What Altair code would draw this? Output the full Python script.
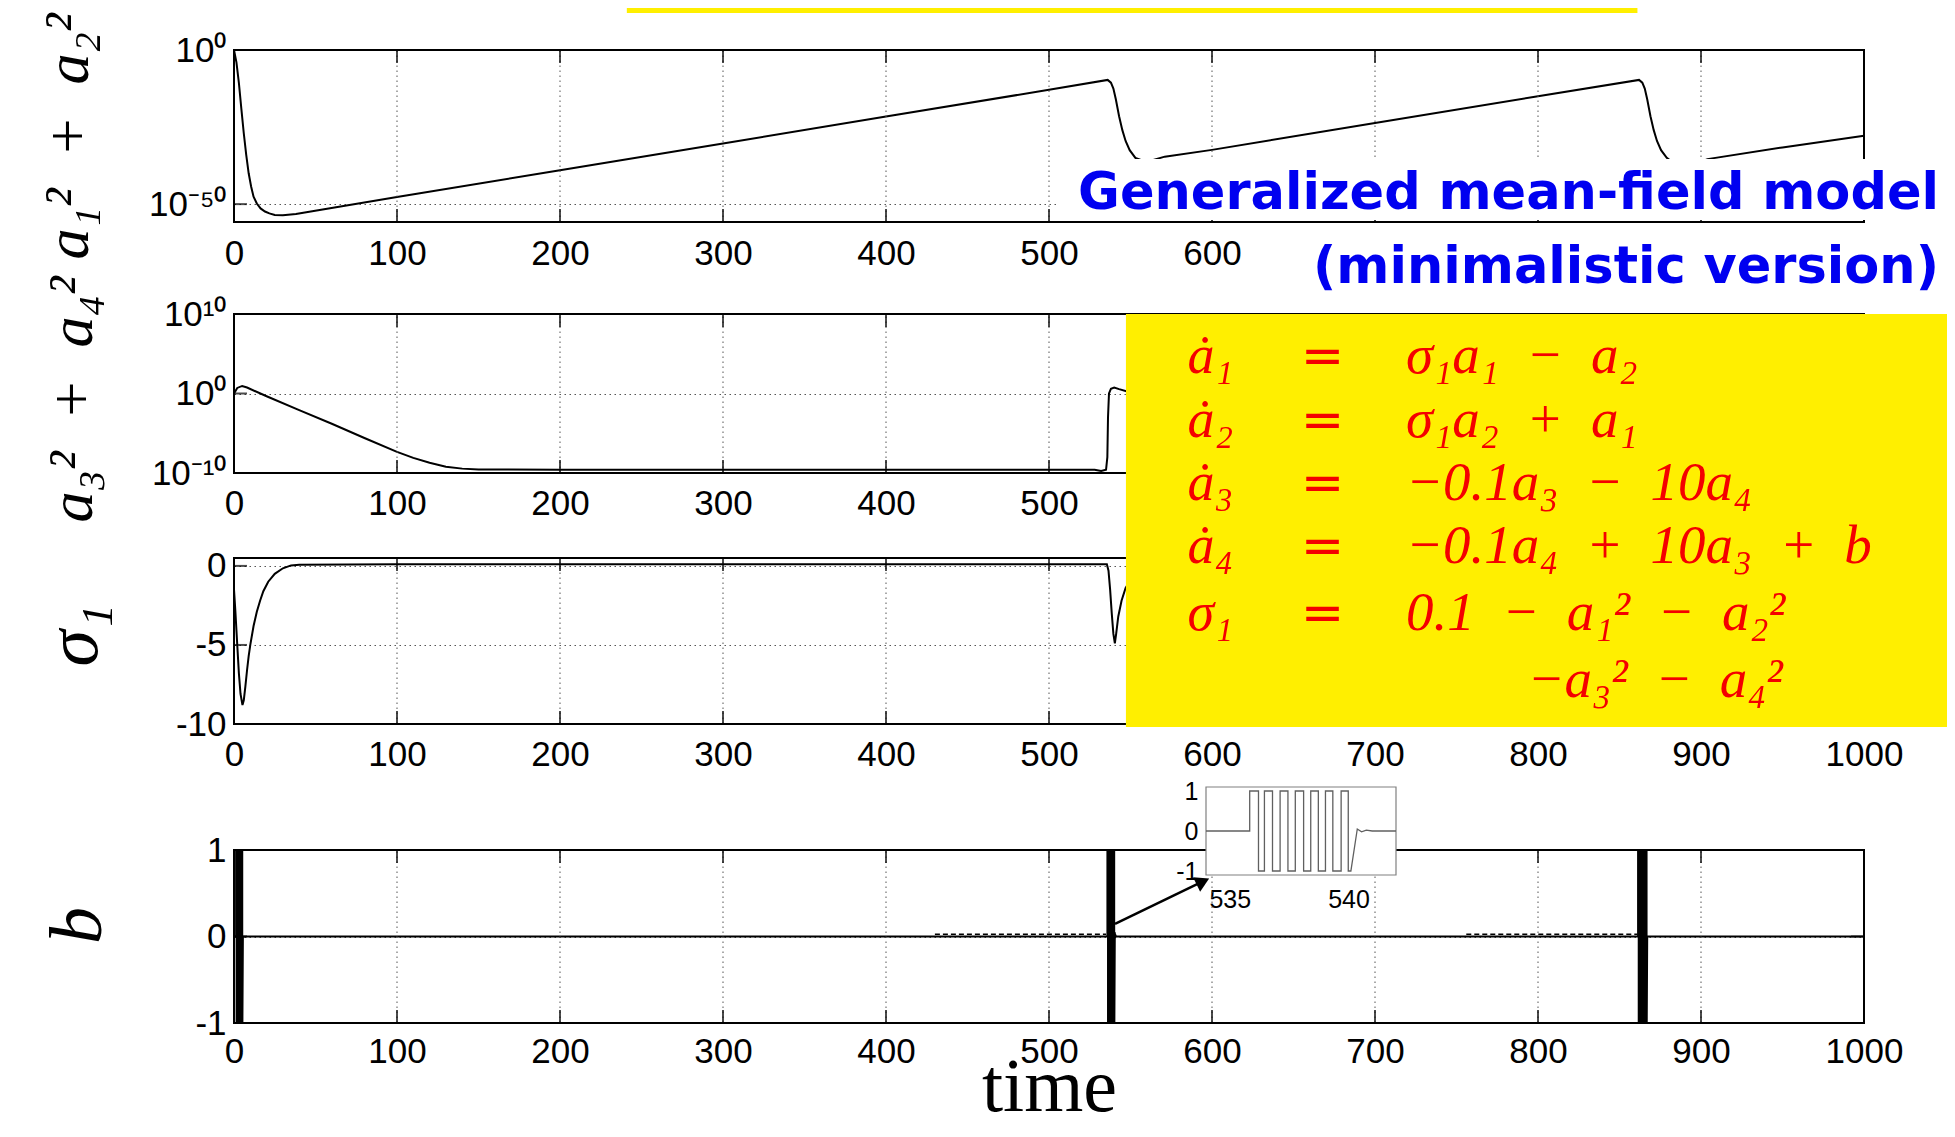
import altair as alt
import pandas as pd

# ---------------- values ----------------
T_TICKS = [0, 100, 200, 300, 400, 500, 600, 700, 800, 900, 1000]

# panel 1 : log10(a1^2 + a2^2)
P1_T = [0, 1.5, 3, 4.5, 6, 7.5, 9, 10.5, 12, 14, 16.3, 19, 21.7, 25, 30, 38, 48, 100, 200, 300,
        400, 500, 536, 538, 539.5, 541, 543, 545, 547, 549.5, 553, 558, 564, 571, 600, 700, 800,
        862, 864, 865.5, 867, 869, 871, 873, 875.5, 879, 884, 890, 897, 904, 950, 1000]
P1_V = [0, -4, -10.7, -19, -27, -34, -40, -44.3, -47.6, -49.8, -51.4, -52.4, -53, -53.5, -53.6,
        -53.2, -52.3, -47.7, -39.0, -30.3, -21.6, -12.9, -9.7, -10.6, -12.5, -16, -21.5, -26,
        -29.5, -32.5, -35, -36.0, -35.7, -34.6, -32.4, -23.7, -15.0, -9.7, -10.6, -12.5, -16,
        -21.5, -26, -29.5, -32.5, -35, -37, -37.6, -36.8, -35.4, -31.6, -27.8]

# panel 2 : log10(a3^2 + a4^2)
P2_T = [0, 2, 5, 8, 20, 40, 60, 80, 100, 110, 120, 130, 140, 150, 200, 300, 400, 500, 528, 532,
        535, 535.8, 536.2, 536.8, 538, 540, 543, 548, 552]
P2_V = [0.0, 0.7, 0.95, 0.75, -0.35, -2.1, -3.8, -5.6, -7.35, -8.1, -8.7, -9.2, -9.45, -9.55,
        -9.6, -9.6, -9.6, -9.6, -9.6, -9.75, -9.6, -8.0, -3.0, 0.0, 0.6, 0.75, 0.55, 0.25, 0.1]

# panel 3 : sigma_1
P3_T = [0, 0.8, 2, 3, 4, 5.2, 6, 7, 8, 9, 10, 12, 14, 16, 18, 21, 25, 30, 35, 40, 100, 300,
        535.5, 536.5, 537.5, 538.5, 539.5, 540.4, 541.2, 542.5, 544.5, 547, 550]
P3_V = [-1.5, -2.8, -5.0, -6.8, -8.1, -8.8, -8.5, -7.6, -6.6, -5.7, -5.0, -3.8, -2.9, -2.2, -1.6,
        -1.0, -0.5, -0.15, 0.03, 0.08, 0.1, 0.1, 0.1, -0.3, -1.5, -3.0, -4.3, -4.9, -4.3, -3.2,
        -2.2, -1.4, -0.9]

# panel 4 : forcing b (switch times and level after each switch)
B1_SW_T = [1.3, 1.6, 1.9, 2.25, 2.6, 2.95, 3.3, 3.65, 4.0, 4.35, 4.7, 5.05]
B1_SW_V = [1, -1, 1, -1, 1, -1, 1, -1, 1, -1, 1, -1]
B1_TAIL_T = [5.15, 5.45]
B1_TAIL_V = [-1, 0]
B2_SW_T = [535.84, 536.21, 536.46, 536.80, 537.12, 537.45, 537.76, 538.11, 538.41, 538.73,
           539.03, 539.34, 539.69, 539.99]
B2_SW_V = [1, -1, 1, -1, 1, -1, 1, -1, 1, -1, 1, -1, 1, -1]
B2_TAIL_T = [540.10, 540.37, 540.55, 540.75, 541.0]
B2_TAIL_V = [-1, 0.05, -0.02, 0.02, 0.0]
B3_SW_T = [861.4, 861.8, 862.2, 862.6, 863.0, 863.4, 863.8, 864.2, 864.6, 865.0, 865.4, 865.8,
           866.2, 866.6]
B3_SW_V = [1, -1, 1, -1, 1, -1, 1, -1, 1, -1, 1, -1, 1, -1]
B3_TAIL_T = [866.7, 867.0]
B3_TAIL_V = [-1, 0]
NOISE_T0 = [430, 756]
NOISE_T1 = [535, 861]
NOISE_V = [0.025, 0.025]

# tick labels that are visible in each panel (the others are hidden by the overlays)
P1_XTICKS = [0, 100, 200, 300, 400, 500, 600]
P2_XTICKS = [0, 100, 200, 300, 400, 500]
P1_YTICKS = [0, -50]
P2_YTICKS = [10, 0, -10]
P3_YTICKS = [0, -5, -10]
P4_YTICKS = [1, 0, -1]
INSET_XTICKS = [535, 540]
INSET_YTICKS = [1, 0, -1]

E = "\u2002"
EQ_LHS = ["ȧ₁", "ȧ₂", "ȧ₃", "ȧ₄", "σ₁"]
EQ_RHS = [f"σ₁a₁{E}−{E}a₂", f"σ₁a₂{E}+{E}a₁", f"−0.1a₃{E}−{E}10a₄",
          f"−0.1a₄{E}+{E}10a₃{E}+{E}b", f"0.1{E}−{E}a₁²{E}−{E}a₂²"]
EQ_CONT = f"−a₃²{E}−{E}a₄²"
BLUE_LINES = ["Generalized mean-field model", "(minimalistic version)"]

# ---------------- layout / style ----------------
W, H = 1630, 973
GRID_C = "#555555"
YELLOW = "#FFEF00"
RED = "#F40000"
BLUE = "#0000F0"

SUP = str.maketrans("-0123456789", "⁻⁰¹²³⁴⁵⁶⁷⁸⁹")


def pow_expr(vals):
    parts = [f"datum.value == {v} ? '10{str(v).translate(SUP)}'" for v in vals]
    return " : ".join(parts) + " : ''"


PLAIN_EXPR = "datum.value + ''"


def sc_x():
    return alt.Scale(domain=[0, 1000], range=[0, W], nice=False, zero=False)


def sc_y(dom, rng):
    return alt.Scale(domain=dom, range=rng, nice=False, zero=False)


def line_df(ts, vs):
    return pd.DataFrame({"t": ts, "v": vs, "i": list(range(len(ts)))})


def steps(t0, v0, sw_t, sw_v, tail_t, tail_v):
    ts, vs, prev = [t0], [v0], v0
    for a, b in zip(sw_t, sw_v):
        ts += [a, a]
        vs += [prev, b]
        prev = b
    return ts + list(tail_t), vs + list(tail_v)


X_AXIS = dict(orient="bottom", grid=False, domain=False, ticks=False, tickSize=0,
              labelFont="Liberation Sans", labelFontSize=35, labelColor="black",
              labelFlush=False, labelOverlap=False, labelExpr=PLAIN_EXPR, zindex=0)
Y_AXIS = dict(orient="left", grid=True, gridDash=[1.5, 3.5], gridColor=GRID_C, gridWidth=1,
              gridOpacity=1, domain=False, ticks=False, tickSize=0, labelPadding=8,
              labelFont="Liberation Sans", labelFontSize=35, labelColor="black", labelFlush=False,
              labelOverlap=False, zindex=0, titleAngle=270, titleAlign="center",
              titleBaseline="middle", titleFont="Liberation Serif", titleFontStyle="italic",
              titleFontWeight="normal", titleColor="black")


def panel(curve_df, dom, rng, xticks, yticks, ylab, ytitle, tsize, tx, ty, xoff, lpad, xtitle, extra):
    xsc, ysc = sc_x(), sc_y(dom, rng)
    if xtitle:
        xaxis = alt.Axis(values=xticks, offset=xoff, labelPadding=lpad, title=xtitle,
                         titleFont="Liberation Serif", titleFontSize=76, titleFontWeight="normal",
                         titleColor="black", titleY=87, titleBaseline="alphabetic", **X_AXIS)
    else:
        xaxis = alt.Axis(values=xticks, offset=xoff, labelPadding=lpad, title=None, **X_AXIS)
    yaxis = alt.Axis(values=yticks, labelExpr=ylab, title=ytitle, titleFontSize=tsize,
                     titleX=tx, titleY=ty, **Y_AXIS)

    # every layer of a panel carries the same axis definition, so that they merge cleanly
    def X(f):
        return alt.X(f, type="quantitative", scale=xsc, axis=xaxis)

    def Y(f):
        return alt.Y(f, type="quantitative", scale=ysc, axis=yaxis)

    inner_x = T_TICKS[1:-1]
    grid = alt.Chart(pd.DataFrame({"t": inner_x, "y0": dom[0], "y1": dom[1]})).mark_rule(
        color=GRID_C, strokeDash=[1.5, 3.5], strokeWidth=1).encode(x=X("t"), y=Y("y0"), y2="y1:Q")
    curve = alt.Chart(curve_df).mark_line(color="black", strokeWidth=2).encode(
        x=X("t"), y=Y("v"), order="i:Q")
    border = alt.Chart(pd.DataFrame({"x0": [0], "x1": [1000], "y0": [dom[0]], "y1": [dom[1]]})).mark_rect(
        fillOpacity=0, stroke="black", strokeWidth=2).encode(x=X("x0"), x2="x1:Q", y=Y("y0"), y2="y1:Q")
    t_top = alt.Chart(pd.DataFrame({"t": inner_x, "y": dom[1]})).mark_tick(
        orient="vertical", size=13, thickness=2, color="black", yOffset=6.5).encode(x=X("t"), y=Y("y"))
    t_bot = alt.Chart(pd.DataFrame({"t": inner_x, "y": dom[0]})).mark_tick(
        orient="vertical", size=13, thickness=2, color="black", yOffset=-6.5).encode(x=X("t"), y=Y("y"))
    inner_y = [v for v in yticks if dom[0] < v < dom[1]]
    t_left = alt.Chart(pd.DataFrame({"x": 0, "v": inner_y})).mark_tick(
        orient="horizontal", size=13, thickness=2, color="black", xOffset=6.5).encode(x=X("x"), y=Y("v"))
    t_right = alt.Chart(pd.DataFrame({"x": 1000, "v": inner_y})).mark_tick(
        orient="horizontal", size=13, thickness=2, color="black", xOffset=-6.5).encode(x=X("x"), y=Y("v"))
    layers = [curve, grid, border, t_top, t_bot, t_left, t_right]
    layers += [f(X, Y) for f in extra]
    return alt.layer(*layers)


# ---------------- annotations ----------------
def p1_extra_strip(X, Y):
    df = pd.DataFrame({"x0": [241], "x1": [861], "y0": [12.0], "y1": [13.6]})
    return alt.Chart(df).mark_rect(color=YELLOW).encode(x=X("x0"), x2="x1:Q", y=Y("y0"), y2="y1:Q")


def p1_extra_boxes(X, Y):
    df = pd.DataFrame({"x0": [505.5, 654], "x1": [1051, 1051], "y0": [-55.16, -81.76], "y1": [-35.37, -59.05]})
    return alt.Chart(df).mark_rect(color="white").encode(x=X("x0"), x2="x1:Q", y=Y("y0"), y2="y1:Q")


def p1_extra_text(X, Y):
    df = pd.DataFrame({"t": [1046, 1046], "v": [-51.58, -75.59], "txt": BLUE_LINES})
    return alt.Chart(df).mark_text(align="right", baseline="alphabetic", font="DejaVu Sans",
                                   fontWeight="bold", fontSize=51, color=BLUE).encode(
        x=X("t"), y=Y("v"), text="txt:N")


ROW_S = [12.2, 8.15, 4.17, 0.18, -4.05]


def p3_extra_box(X, Y):
    df = pd.DataFrame({"x0": [547.2], "x1": [1051], "y0": [-10.19], "y1": [15.93]})
    return alt.Chart(df).mark_rect(color=YELLOW).encode(x=X("x0"), x2="x1:Q", y=Y("y0"), y2="y1:Q")


def p3_extra_lhs(X, Y):
    df = pd.DataFrame({"t": [585.0] * 5, "v": ROW_S, "txt": EQ_LHS})
    return alt.Chart(df).mark_text(align="left", baseline="alphabetic", font="Liberation Serif",
                                   fontStyle="italic", fontSize=54, color=RED).encode(
        x=X("t"), y=Y("v"), text="txt:N")


def p3_extra_eq(X, Y):
    df = pd.DataFrame({"t": [654.5] * 5, "v": ROW_S, "txt": ["="] * 5})
    return alt.Chart(df).mark_text(align="left", baseline="alphabetic", font="DejaVu Sans",
                                   fontSize=52, color=RED).encode(
        x=X("t"), y=Y("v"), text="txt:N")


def p3_extra_rhs(X, Y):
    df = pd.DataFrame({"t": [719.0] * 5 + [793.5], "v": ROW_S + [-8.29], "txt": EQ_RHS + [EQ_CONT]})
    return alt.Chart(df).mark_text(align="left", baseline="alphabetic", font="Liberation Serif",
                                   fontStyle="italic", fontSize=55, color=RED).encode(
        x=X("t"), y=Y("v"), text="txt:N")


def p4_extra_noise(X, Y):
    df = pd.DataFrame({"t0": NOISE_T0, "t1": NOISE_T1, "v": NOISE_V})
    return alt.Chart(df).mark_rule(color="black", strokeWidth=1.5, strokeDash=[5, 3]).encode(
        x=X("t0"), x2="t1:Q", y=Y("v"))


def p4_extra_arrow(X, Y):
    df = pd.DataFrame({"t0": [540.5], "t1": [594.4], "v0": [0.145], "v1": [0.636]})
    return alt.Chart(df).mark_rule(color="black", strokeWidth=2.5).encode(
        x=X("t0"), x2="t1:Q", y=Y("v0"), y2="v1:Q")


def p4_extra_head(X, Y):
    df = pd.DataFrame({"t": [594.4], "v": [0.636]})
    return alt.Chart(df).mark_point(shape="triangle-right", filled=True, size=260, angle=334,
                                    color="black", opacity=1).encode(x=X("t"), y=Y("v"))


# ---------------- panels ----------------
b1_t, b1_v = steps(0, 0, B1_SW_T, B1_SW_V, B1_TAIL_T, B1_TAIL_V)
b2_t, b2_v = steps(534, 0, B2_SW_T, B2_SW_V, B2_TAIL_T, B2_TAIL_V)
b3_t, b3_v = steps(860, 0, B3_SW_T, B3_SW_V, B3_TAIL_T, B3_TAIL_V)

p1 = panel(line_df(P1_T, P1_V), [-55.8, 0], [172, 0], P1_XTICKS, P1_YTICKS, pow_expr(P1_YTICKS),
           f"a₁²{E}+{E}a₂²", 62, -166, 86, -(H - 172), 14, None,
           [p1_extra_strip, p1_extra_boxes, p1_extra_text])
p2 = panel(line_df(P2_T, P2_V), [-10, 10], [423, 264], P2_XTICKS, P2_YTICKS, pow_expr(P2_YTICKS),
           f"a₃²{E}+{E}a₄²", 62, -162, 349, -(H - 423), 13, None, [])
p3 = panel(line_df(P3_T, P3_V), [-10, 0.5], [674, 508], T_TICKS, P3_YTICKS, PLAIN_EXPR,
           "σ₁", 74, -160, 585, -(H - 674), 13, None,
           [p3_extra_box, p3_extra_lhs, p3_extra_eq, p3_extra_rhs])
p4 = panel(line_df(b1_t + b2_t + b3_t + [1000], b1_v + b2_v + b3_v + [0]), [-1, 1], [973, 800],
           T_TICKS, P4_YTICKS, PLAIN_EXPR, "b", 74, -156, 875, 0, 11, "time",
           [p4_extra_noise, p4_extra_arrow, p4_extra_head])

# ---------------- inset (zoom of the burst near t = 537) ----------------
ixs = alt.Scale(domain=[534, 542], range=[972, 1162], nice=False, zero=False)
iys = alt.Scale(domain=[-1.1, 1.1], range=[825, 737], nice=False, zero=False)
ix_axis = alt.Axis(orient="bottom", offset=-(H - 825), values=INSET_XTICKS, grid=False, domain=False,
                   ticks=False, tickSize=0, labelPadding=12, labelFont="Liberation Sans",
                   labelFontSize=25, labelColor="black", labelFlush=False, title=None, zindex=0)
iy_axis = alt.Axis(orient="left", offset=-972, values=INSET_YTICKS, labelExpr=PLAIN_EXPR, grid=False,
                   domain=False, ticks=False, tickSize=0, labelPadding=8, labelFont="Liberation Sans",
                   labelFontSize=25, labelColor="black", labelFlush=False, title=None, zindex=0)
inset_box = alt.Chart(pd.DataFrame({"x0": [534], "x1": [542], "y0": [-1.1], "y1": [1.1]})).mark_rect(
    fill="white", stroke="#808080", strokeWidth=1.2).encode(
    x=alt.X("x0:Q", scale=ixs, axis=ix_axis), x2="x1:Q",
    y=alt.Y("y0:Q", scale=iys, axis=iy_axis), y2="y1:Q")
inset_sig = alt.Chart(line_df(b2_t + [542], b2_v + [0])).mark_line(color="#606060", strokeWidth=1.3).encode(
    x=alt.X("t:Q", scale=ixs, axis=ix_axis), y=alt.Y("v:Q", scale=iys, axis=iy_axis), order="i:Q")
inset = alt.layer(inset_box, inset_sig)

chart = (
    alt.layer(p1, p2, p3, p4, inset)
    .resolve_scale(x="independent", y="independent")
    .resolve_axis(x="independent", y="independent")
    .properties(width=W, height=H, autosize=alt.AutoSizeParams(type="none"),
                padding={"left": 226, "top": 42, "right": 83, "bottom": 106},
                background="white")
    .configure_view(strokeWidth=0)
)

chart.save("out.html", embed_options={"renderer": "svg", "actions": False})
